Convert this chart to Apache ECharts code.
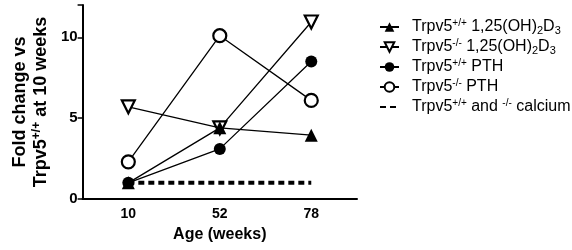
<!DOCTYPE html>
<html>
<head>
<meta charset="utf-8">
<script src="https://cdn.jsdelivr.net/npm/echarts@6/dist/echarts.min.js"></script>
<style>
  html, body { margin: 0; padding: 0; background: #fff; }
  #main { width: 572px; height: 250px; }
</style>
</head>
<body>
<div id="main"></div>
<script>
var ages = ['10', '52', '78'];
var yTicks = [0, 5, 10];

var wtVitD = [1.0, 4.4, 3.95];
var koVitD = [5.7, 4.4, 10.95];
var wtPth = [1.0, 3.1, 8.5];
var koPth = [2.3, 10.1, 6.1];
var calcium = [1.0, 1.0, 1.0];

var names = ['wtVitD', 'koVitD', 'wtPth', 'koPth', 'calcium'];
var legendText = {
    wtVitD: 'Trpv5{sup|+/+} 1,25(OH){sub|2}D{sub|3}',
    koVitD: 'Trpv5{sup|-/-} 1,25(OH){sub|2}D{sub|3}',
    wtPth: 'Trpv5{sup|+/+} PTH',
    koPth: 'Trpv5{sup|-/-} PTH',
    calcium: 'Trpv5{sup|+/+} and {sup|-/-} calcium'
};

var font = 'Liberation Sans';
var chart = echarts.init(document.getElementById('main'));

function lineSeries(name, data, symbol, filled, rotate, size) {
    return {
        name: name,
        type: 'line',
        data: data,
        symbol: symbol,
        symbolSize: size,
        symbolRotate: rotate,
        lineStyle: { color: '#000', width: 1.3 },
        itemStyle: {
            color: filled ? '#000' : '#fff',
            borderColor: '#000',
            borderWidth: filled ? 0 : 2.2
        },
        emphasis: { disabled: true },
        animation: false
    };
}

var legendData = names.map(function (n) {
    if (n === 'calcium') {
        return { name: n, itemStyle: { opacity: 0 } };
    }
    return { name: n };
});

var option = {
    backgroundColor: '#fff',
    textStyle: { fontFamily: font },
    grid: { left: 70, top: 5, width: 287, height: 194 },
    legend: {
        orient: 'vertical',
        left: 374,
        top: 13,
        itemGap: 2,
        itemWidth: 19,
        itemHeight: 12,
        data: legendData,
        formatter: function (n) { return legendText[n]; },
        textStyle: {
            fontFamily: font,
            fontSize: 16,
            color: '#000',
            lineHeight: 18,
            padding: [0, 0, 0, 8],
            rich: {
                sup: { fontSize: 10, lineHeight: 10, verticalAlign: 'top', fontFamily: font, color: '#000' },
                sub: { fontSize: 11, lineHeight: 10, verticalAlign: 'bottom', fontFamily: font, color: '#000' }
            }
        }
    },
    xAxis: {
        type: 'category',
        data: ages,
        boundaryGap: true,
        name: 'Age (weeks)',
        nameLocation: 'middle',
        nameGap: 28,
        nameTextStyle: { fontFamily: font, fontSize: 16, fontWeight: 'bold', color: '#000' },
        axisLine: { lineStyle: { color: '#000', width: 2 } },
        axisTick: { alignWithLabel: true, length: 5, lineStyle: { color: '#000', width: 1.5 } },
        axisLabel: { fontFamily: font, fontSize: 14, fontWeight: 'bold', color: '#000', margin: 8 },
        splitLine: { show: false }
    },
    yAxis: {
        type: 'value',
        min: 0,
        max: 12,
        interval: 5,
        name: 'Fold change vs\nTrpv5{sup|+/+} at 10 weeks',
        nameLocation: 'middle',
        nameGap: 31,
        nameRotate: 90,
        nameTextStyle: {
            fontFamily: font, fontSize: 18, fontWeight: 'bold', color: '#000', lineHeight: 21,
            rich: {
                sup: { fontSize: 12, lineHeight: 10, verticalAlign: 'top', fontWeight: 'bold', fontFamily: font, color: '#000' }
            }
        },
        axisLine: { show: true, lineStyle: { color: '#000', width: 2 } },
        axisTick: { show: true, length: 5, lineStyle: { color: '#000', width: 1.5 } },
        axisLabel: {
            fontFamily: font, fontSize: 15, fontWeight: 'bold', color: '#000', margin: 5,
            formatter: function (v) { return yTicks.indexOf(v) >= 0 ? String(v) : ''; }
        },
        splitLine: { show: false }
    },
    series: [
        {
            name: 'calcium',
            type: 'line',
            data: calcium,
            symbol: 'none',
            lineStyle: { color: '#000', width: 4, type: [6, 4] },
            itemStyle: { color: '#000' },
            emphasis: { disabled: true },
            animation: false
        },
        lineSeries('koPth', koPth, 'circle', false, 0, 13),
        lineSeries('wtPth', wtPth, 'circle', true, 0, 12),
        lineSeries('koVitD', koVitD, 'triangle', false, 180, 13),
        lineSeries('wtVitD', wtVitD, 'triangle', true, 0, 13)
    ]
};

chart.setOption(option);
window.addEventListener('resize', function () {
    chart.resize();
});
</script>
</body>
</html>
